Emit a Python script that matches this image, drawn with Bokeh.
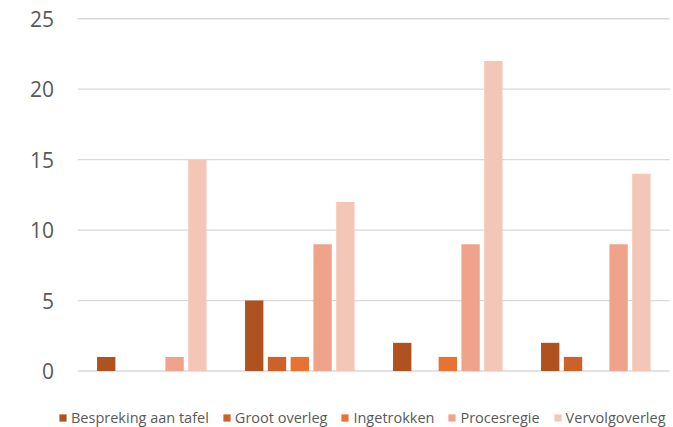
from bokeh.plotting import figure
from bokeh.models import ColumnDataSource, Legend, LegendItem, Range1d
from bokeh.core.properties import value
from bokeh.transform import dodge
from bokeh.embed import file_html
from bokeh.resources import INLINE

groups = [1, 2, 3, 4]
series_names = ["Bespreking aan tafel", "Groot overleg", "Ingetrokken", "Procesregie", "Vervolgoverleg"]
bespreking = [1, 5, 2, 2]
groot_overleg = [0, 1, 0, 1]
ingetrokken = [0, 1, 1, 0]
procesregie = [1, 9, 9, 9]
vervolgoverleg = [15, 12, 22, 14]
colors = ["#B0521F", "#CC6229", "#E97132", "#EEA38A", "#F3C6B8"]
y_ticks = [0, 5, 10, 15, 20, 25]
y_tick_labels = ["0", "5", "10", "15", "20", "25"]

W, H = 673, 427
# pixel layout of the plotting area (group 1 centre, px per group, y=0 line, px per unit)
X1_PX, X_SCALE = 151.3, 148.0
Y0_PX, Y_SCALE = 370.5, 14.09
x_start = 1 - X1_PX / X_SCALE
x_end = x_start + W / X_SCALE
y_end = Y0_PX / Y_SCALE
y_start = -(H - Y0_PX) / Y_SCALE

src = ColumnDataSource(dict(g=groups, s0=bespreking, s1=groot_overleg, s2=ingetrokken,
                            s3=procesregie, s4=vervolgoverleg))

p = figure(width=W, height=H, output_backend="svg", toolbar_location=None,
           x_range=Range1d(x_start, x_end), y_range=Range1d(y_start, y_end),
           min_border=0)
p.outline_line_color = None
p.xaxis.visible = False
p.yaxis.visible = False
p.xgrid.visible = False
p.ygrid.visible = False

# horizontal gridlines at the tick values
p.segment(x0=0.5, x1=4.5, y0=y_ticks, y1=y_ticks, line_color="#D9D9D9", line_width=1.3)
# tick labels
label_x = x_start + 53.5 / X_SCALE
p.text(x=[label_x] * len(y_ticks), y=y_ticks, text=y_tick_labels,
       text_font=value("Open Sans"), text_font_size="21px", text_color="#595959",
       text_align="right", text_baseline="middle")

offsets = [-0.308, -0.154, 0.0, 0.154, 0.308]
items = []
for i, name in enumerate(series_names):
    r = p.vbar(x=dodge("g", offsets[i], range=p.x_range), top="s%d" % i, width=0.124,
               source=src, fill_color=colors[i], line_color=None)
    items.append(LegendItem(label=name, renderers=[r]))

legend = Legend(items=items, orientation="horizontal", location=(58, 0),
                label_text_font="Open Sans", label_text_font_size="14.5px",
                label_text_color="#595959", glyph_width=9, glyph_height=9,
                label_standoff=4, spacing=13, padding=0, margin=0,
                border_line_color=None, background_fill_alpha=0)
p.add_layout(legend, "center")

open("out.html", "w").write(file_html(p, INLINE))
